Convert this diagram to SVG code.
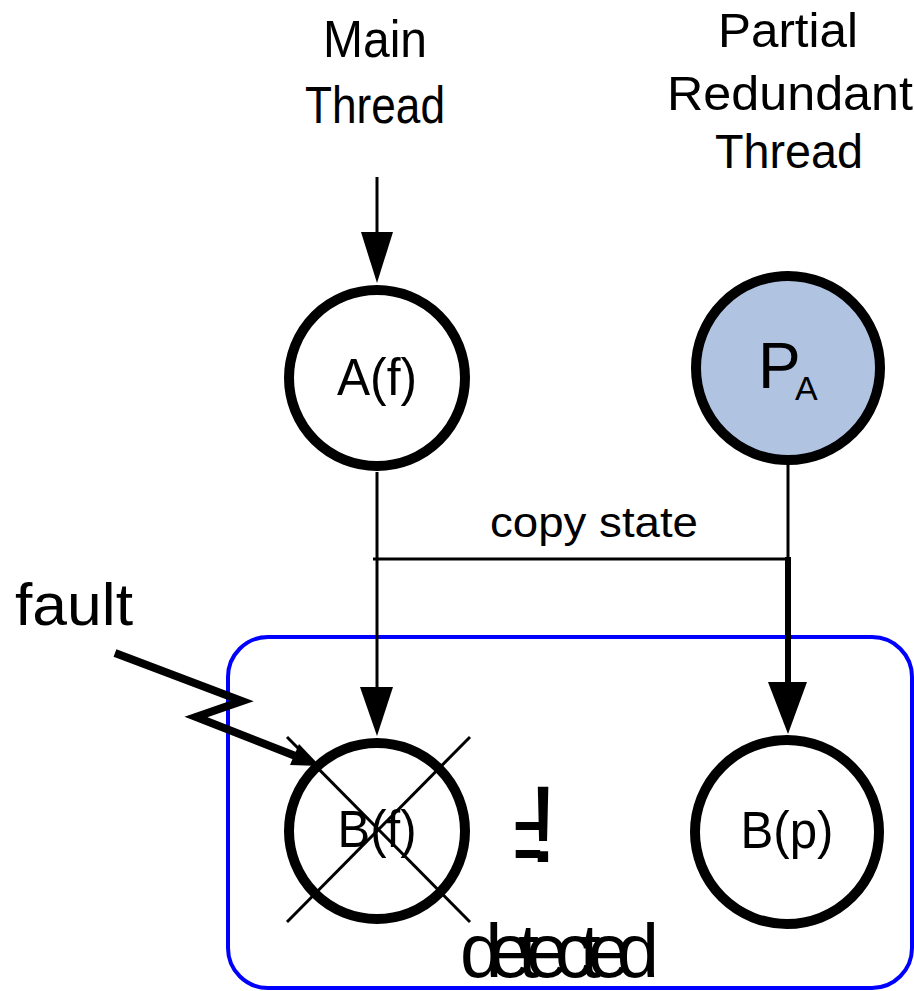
<svg xmlns="http://www.w3.org/2000/svg" width="914" height="991" viewBox="0 0 914 991">
<style>
text{font-family:"Liberation Sans",Arial,sans-serif;fill:#000}
.node{fill:#fff;stroke:#000;stroke-width:10}
.ln{stroke:#000;fill:none}
</style>
<rect width="914" height="991" fill="#fff"/>
<g id="labels">
<text x="375" y="57" font-size="52" text-anchor="middle" textLength="104" lengthAdjust="spacingAndGlyphs">Main</text>
<text x="375" y="123" font-size="52" text-anchor="middle" textLength="140" lengthAdjust="spacingAndGlyphs">Thread</text>
<text x="788" y="47" font-size="49" text-anchor="middle" textLength="140" lengthAdjust="spacingAndGlyphs">Partial</text>
<text x="790" y="110" font-size="49" text-anchor="middle" textLength="246" lengthAdjust="spacingAndGlyphs">Redundant</text>
<text x="789" y="168" font-size="49" text-anchor="middle" textLength="148" lengthAdjust="spacingAndGlyphs">Thread</text>
<text x="15" y="625" font-size="60" textLength="118" lengthAdjust="spacingAndGlyphs">fault</text>
</g>
<g id="detection-box">
<rect x="228" y="637" width="684" height="351" rx="40" ry="40" fill="none" stroke="#0000ff" stroke-width="4"/>
</g>
<g id="connectors">
<line class="ln" x1="377" y1="177" x2="377" y2="234" stroke-width="3"/>
<polygon points="361,232 393,232 377,283"/>
<line class="ln" x1="377" y1="472" x2="377" y2="690" stroke-width="3"/>
<polygon points="360,687 393,687 377,736"/>
<line class="ln" x1="373" y1="559" x2="790" y2="559" stroke-width="3"/>
<line class="ln" x1="788" y1="462" x2="788" y2="559" stroke-width="3"/>
<line class="ln" x1="788" y1="557" x2="788" y2="685" stroke-width="6"/>
<polygon points="768,682 807,682 788,734"/>
<text x="594" y="537" font-size="43" text-anchor="middle" textLength="208" lengthAdjust="spacingAndGlyphs">copy state</text>
<polyline class="ln" points="115,653 242,701 196,717 298,757" stroke-width="8" stroke-linejoin="miter"/>
<polygon points="320,766 290,765 299,744"/>
</g>
<g id="node-A">
<circle class="node" cx="377" cy="378" r="88"/>
<text x="377" y="395" font-size="52" text-anchor="middle" textLength="80" lengthAdjust="spacingAndGlyphs">A(f)</text>
</g>
<g id="node-PA">
<circle class="node" cx="788" cy="368" r="92" fill="#b0c4e2" style="fill:#b0c4e2"/>
<text x="758" y="388" font-size="64">P</text>
<text x="795" y="400" font-size="34">A</text>
</g>
<g id="node-Bf">
<circle class="node" cx="377" cy="831" r="88"/>
<text x="377" y="847" font-size="52" text-anchor="middle" textLength="79" lengthAdjust="spacingAndGlyphs">B(f)</text>
<line class="ln" x1="287" y1="737" x2="470" y2="922" stroke-width="3"/>
<line class="ln" x1="470" y1="737" x2="287" y2="922" stroke-width="3"/>
</g>
<g id="node-Bp">
<circle class="node" cx="787" cy="832" r="92"/>
<text x="787" y="848" font-size="52" text-anchor="middle" textLength="93" lengthAdjust="spacingAndGlyphs">B(p)</text>
</g>
<g id="compare">
<text transform="translate(528,877) scale(0.45,1)" font-size="112" text-anchor="middle">=</text>
<text x="543" y="862" font-size="110" text-anchor="middle">!</text>
<text x="460" y="977" font-size="76" textLength="199" lengthAdjust="spacing">detected</text>
</g>
</svg>
